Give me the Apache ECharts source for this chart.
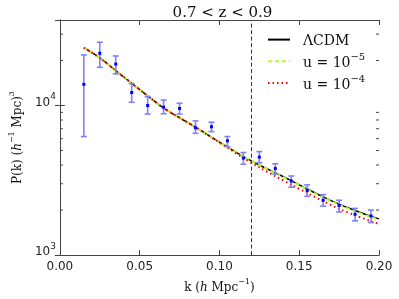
<!DOCTYPE html>
<html><head><meta charset="utf-8">
<script src="https://cdn.jsdelivr.net/npm/echarts@6/dist/echarts.min.js"></script>
<style>html,body{margin:0;padding:0;background:#fff}#c{width:399px;height:299px}</style>
</head><body><div id="c"></div>
<script>
// ---- data ----
const kPts = [0.015,0.025,0.035,0.045,0.055,0.065,0.075,0.085,0.095,0.105,0.115,0.125,0.135,0.145,0.155,0.165,0.175,0.185,0.195];
const pVals = [13850,22340,18920,12220,10000,9750,9560,7100,7210,5810,4450,4520,3790,3130,2705,2327,2148,1875,1827];
const pLow  = [6200,18000,16270,10510,8770,8810,8770,6520,6690,5310,4050,4145,3480,2843,2470,2126,1941,1695,1652];
const pHigh = [21800,26500,21440,14000,11460,10880,10350,7890,7740,6200,4850,4920,4080,3380,2948,2536,2327,2053,2000];

const kModel = [0.015,0.025,0.035,0.045,0.055,0.065,0.075,0.085,0.095,0.105,0.115,0.125,0.135,0.145,0.155,0.165,0.175,0.185,0.195,0.2];
const lcdm = [24340,20810,17110,14080,11610,9600,8283,7166,6135,5284,4558,4004,3549,3146,2767,2453,2190,1986,1814,1747];
const u5   = [24340,20810,17110,14080,11610,9600,8283,7166,6135,5280,4550,3990,3530,3125,2745,2430,2170,1965,1795,1728];
const u4   = [24340,20810,17110,14080,11610,9600,8283,7166,6120,5231,4458,3856,3367,2962,2601,2294,2037,1847,1682,1619];

const minorY = [2000,3000,4000,5000,6000,7000,8000,9000,20000,30000];
const kCut = 0.12;
const titleText = '0.7 < z < 0.9';
const seriesNames = ['ΛCDM','u = 1e-5','u = 1e-4'];

// ---- chart ----
const chart = echarts.init(document.getElementById('c'), null, {renderer:'canvas'});
const serif = 'DejaVu Serif';
const sans = 'DejaVu Sans';
const axisCol = '#444';

function zip(a,b){return a.map((v,i)=>[v,b[i]]);}

const errData = kPts.map((k,i)=>[k,pVals[i],pLow[i],pHigh[i]]);

const legendRich = {
  r:{fontFamily:serif,fontSize:14,color:'#111',lineHeight:18,verticalAlign:'bottom',padding:[0,0,0,8]},
  s:{fontFamily:serif,fontSize:10,color:'#111',lineHeight:10,verticalAlign:'top'}
};

const option = {
  animation:false,
  title:{text:titleText,left:217.5,textAlign:'center',top:1,
    textStyle:{fontFamily:serif,fontSize:15,fontWeight:'normal',color:'#111'}},
  grid:{left:56,right:20,top:20,bottom:39,show:false},
  legend:{orient:'vertical',left:262,top:29,itemWidth:22,itemHeight:14,itemGap:3.7,
    data:seriesNames,
    itemStyle:{opacity:0},
    formatter:function(n){
      if(n==='ΛCDM') return '{r|ΛCDM}';
      if(n==='u = 1e-5') return '{r|u = 10}{s|−5}';
      return '{r|u = 10}{s|−4}';
    },
    textStyle:{rich:legendRich}},
  xAxis:[{type:'value',min:0,max:0.2,interval:0.05,position:'bottom',
    axisLine:{lineStyle:{color:axisCol,width:1}},
    axisTick:{inside:true,length:5,lineStyle:{color:axisCol}},
    splitLine:{show:false},
    axisLabel:{fontFamily:sans,fontSize:12,color:'#222',margin:6,formatter:v=>v.toFixed(2)},
    name:'{r|k (}{i|h}{r| Mpc}{s|−1}{r|)}',nameLocation:'middle',nameGap:19,
    nameTextStyle:{rich:{
      r:{fontFamily:serif,fontSize:12,color:'#111',lineHeight:16,verticalAlign:'bottom'},
      i:{fontFamily:serif,fontStyle:'italic',fontSize:12,color:'#111',lineHeight:16,verticalAlign:'bottom'},
      s:{fontFamily:serif,fontSize:8,color:'#111',lineHeight:9,verticalAlign:'top'}}}
  },{type:'value',min:0,max:0.2,interval:0.05,position:'top',
    axisLine:{lineStyle:{color:axisCol,width:1}},
    axisTick:{inside:true,length:5,lineStyle:{color:axisCol}},
    axisLabel:{show:false},splitLine:{show:false}}],
  yAxis:[{type:'log',logBase:10,min:1000,max:37300,position:'left',
    axisLine:{show:true,lineStyle:{color:axisCol,width:1}},
    axisTick:{show:true,inside:true,length:5,lineStyle:{color:axisCol}},
    splitLine:{show:false},
    axisLabel:{showMaxLabel:false,margin:4,verticalAlign:'bottom',padding:[0,0,-3,0],
      formatter:function(v){
        const e=Math.log10(v); const r=Math.round(e);
        if(Math.abs(e-r)>1e-6) return '';
        return '{b|10}{s|'+r+'}';
      },
      rich:{b:{fontFamily:sans,fontSize:12,color:'#222',lineHeight:16,verticalAlign:'bottom'},
            s:{fontFamily:sans,fontSize:9,color:'#222',lineHeight:9,verticalAlign:'top'}}},
    name:'{r|P(k) (}{i|h}{s|−1}{r| Mpc)}{s|3}',nameLocation:'middle',nameGap:34,nameRotate:90,
    nameTextStyle:{rich:{
      r:{fontFamily:serif,fontSize:12,color:'#111',lineHeight:16,verticalAlign:'bottom'},
      i:{fontFamily:serif,fontStyle:'italic',fontSize:12,color:'#111',lineHeight:16,verticalAlign:'bottom'},
      s:{fontFamily:serif,fontSize:8,color:'#111',lineHeight:9,verticalAlign:'top'}}}
  },{type:'log',logBase:10,min:1000,max:37300,position:'right',
    axisLine:{show:true,lineStyle:{color:axisCol,width:1}},
    axisTick:{show:true,inside:true,length:5,lineStyle:{color:axisCol}},
    axisLabel:{show:false},splitLine:{show:false}}],
  series:[
    {name:'ΛCDM',type:'line',data:zip(kModel,lcdm),showSymbol:false,symbol:'none',smooth:0.3,
      lineStyle:{color:'#000',width:1.5},itemStyle:{color:'#000'},z:3,
      markLine:{silent:true,symbol:'none',label:{show:false},
        lineStyle:{color:'#333',width:1,type:[4,2.5]},data:[{xAxis:kCut}]}},
    {name:'u = 1e-5',type:'line',data:zip(kModel,u5),showSymbol:false,symbol:'none',smooth:0.3,
      lineStyle:{color:'#adff2f',width:2,type:[4,3]},itemStyle:{color:'#adff2f'},z:4},
    {name:'u = 1e-4',type:'line',data:zip(kModel,u4),showSymbol:false,symbol:'none',smooth:0.3,
      lineStyle:{color:'#ff0000',width:2,type:[1.5,3]},itemStyle:{color:'#ff0000'},z:5},
    {type:'custom',data:errData,z:6,encode:{x:0,y:1},
      renderItem:function(params,api){
        const k=api.value(0);
        const c=api.coord([k,api.value(1)]);
        const lo=api.coord([k,api.value(2)]);
        const hi=api.coord([k,api.value(3)]);
        const st={stroke:'#8080ff',lineWidth:1.6};
        const cw=3;
        return {type:'group',children:[
          {type:'line',shape:{x1:c[0],y1:lo[1],x2:c[0],y2:hi[1]},style:st},
          {type:'line',shape:{x1:c[0]-cw,y1:lo[1],x2:c[0]+cw,y2:lo[1]},style:st},
          {type:'line',shape:{x1:c[0]-cw,y1:hi[1],x2:c[0]+cw,y2:hi[1]},style:st},
          {type:'rect',shape:{x:c[0]-1.5,y:c[1]-1.5,width:3,height:3},style:{fill:'#0000ff'}}
        ]};
      }},
    {type:'custom',data:minorY.map(v=>[0,v]),z:2,silent:true,
      renderItem:function(params,api){
        const cs=params.coordSys;
        const p=api.coord([0,api.value(1)]);
        const st={stroke:axisCol,lineWidth:1};
        return {type:'group',children:[
          {type:'line',shape:{x1:cs.x,y1:p[1],x2:cs.x+3,y2:p[1]},style:st},
          {type:'line',shape:{x1:cs.x+cs.width-3,y1:p[1],x2:cs.x+cs.width,y2:p[1]},style:st}
        ]};
      }}
  ]
};
chart.setOption(option);
</script>
</body></html>
